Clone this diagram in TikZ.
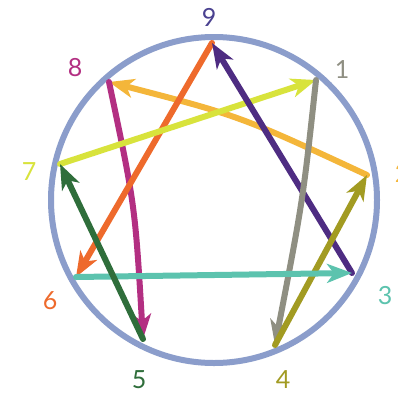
\documentclass[tikz,border=0pt]{standalone}
\usepackage{fontspec}
\setmainfont{Lato}
\usetikzlibrary{arrows.meta}
\definecolor{ring}{HTML}{8B9DCB}
\definecolor{corange}{HTML}{EE6A2C}
\definecolor{cpurple}{HTML}{4E2C82}
\definecolor{cygreen}{HTML}{D8E33C}
\definecolor{cgray}{HTML}{8F8F82}
\definecolor{cgold}{HTML}{F4B63A}
\definecolor{colive}{HTML}{A29B22}
\definecolor{cteal}{HTML}{5CC3AE}
\definecolor{cdgreen}{HTML}{2F6E3B}
\definecolor{cmagenta}{HTML}{B32F82}
\definecolor{lnine}{HTML}{4A4190}
\begin{document}
\begin{tikzpicture}[x=1pt,y=-1pt,
  arr/.style={line width=6pt,line cap=round,-{Stealth[length=25pt,width=19pt,inset=7pt]}},
  lab/.style={font=\fontsize{25}{25}\selectfont, inner sep=0pt}]
\useasboundingbox (0,0) rectangle (398,394);
\clip (0,0) rectangle (398,394);
\fill[white] (0,0) rectangle (398,394);
\coordinate (c) at (214,200);
\draw[ring, line width=6pt] (c) circle[radius=163];
\coordinate (p9) at (212,43);
\coordinate (p1) at (316,80);
\coordinate (p2) at (367,175);
\coordinate (p3) at (352,273);
\coordinate (p4) at (275,345);
\coordinate (p5) at (143,339);
\coordinate (p6) at (76,277);
\coordinate (p7) at (60,164);
\coordinate (p8) at (109,82);
% connectors
\draw[arr, cgold] (p2) .. controls (240,116) .. (p8);
\draw[arr, cmagenta] (p8) .. controls (135,205) .. (p5);
\draw[arr, corange] (p9) -- (p6);
\draw[arr, cygreen] (p7) -- (p1);
\draw[arr, cpurple] (p3) -- (p9);
\draw[arr, cgray] (p1) .. controls (303,200) .. (p4);
\draw[arr, colive] (p4) -- (p2);
\draw[arr, cteal] (p6) -- (p3);
\draw[arr, cdgreen] (p5) -- (p7);
% labels
\node[lab, text=lnine] (l9) at (209,17) {9};
\node[lab, text=cgray] (l1) at (342,70) {1};
\node[lab, text=cgold] (l2) at (402,173) {2};
\node[lab, text=cteal] (l3) at (385,296) {3};
\node[lab, text=colive] (l4) at (283,380) {4};
\node[lab, text=cdgreen] (l5) at (139,380) {5};
\node[lab, text=corange] (l6) at (50,301) {6};
\node[lab, text=cygreen] (l7) at (29,172) {7};
\node[lab, text=cmagenta] (l8) at (75,68) {8};
\end{tikzpicture}
\end{document}
